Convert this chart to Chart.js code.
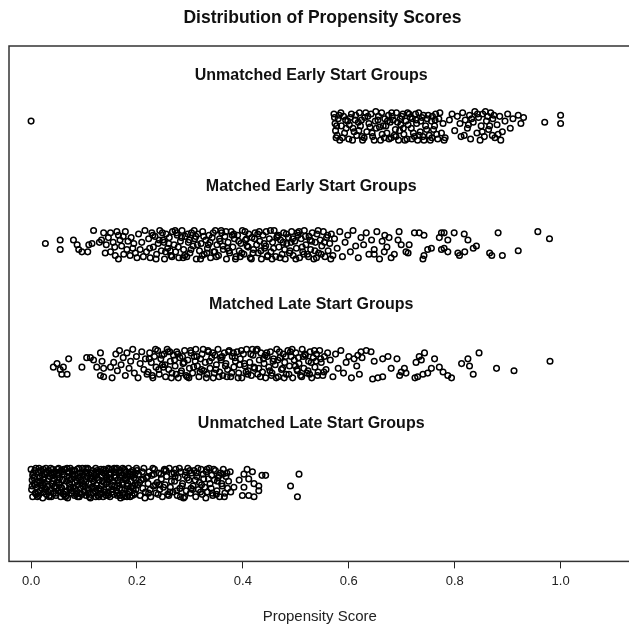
<!DOCTYPE html>
<html>
<head>
<meta charset="utf-8">
<script src="https://cdn.jsdelivr.net/npm/chart.js@4/dist/chart.umd.min.js"></script>
<style>
  html, body { margin: 0; padding: 0; background: #fff; overflow: hidden; }
  #wrap { width: 636px; height: 626px; }
</style>
</head>
<body>
<div id="wrap"><canvas id="chartCanvas" width="636" height="626"></canvas></div>
<script>
const chartTitle = 'Distribution of Propensity Scores';
const axisTitle = 'Propensity Score';
const groupNames = ['Unmatched Early Start Groups', 'Matched Early Start Groups', 'Matched Late Start Groups', 'Unmatched Late Start Groups'];
const groupLevels = [4, 3, 2, 1];
const tickValues = [0, 0.2, 0.4, 0.6, 0.8, 1.0];

// each point: [propensity score, vertical jitter]
const unmatchedEarly = [
  [0.000,0.04],
  [0.572,0.10],[0.574,0.02],[0.575,-0.04],[0.576,-0.10],[0.580,0.06],[0.583,-0.12],[0.586,0.00],[0.590,0.08],[0.592,-0.06],[0.598,0.04],
  [0.600,-0.11],[0.605,0.10],[0.608,-0.02],[0.612,0.05],[0.615,-0.08],[0.620,0.11],[0.622,0.00],[0.626,-0.12],[0.630,0.07],[0.634,-0.05],
  [0.638,0.02],[0.642,0.10],[0.645,-0.09],[0.650,0.04],[0.652,-0.02],[0.656,0.08],[0.660,-0.12],[0.662,0.11],[0.665,0.00],[0.668,0.06],
  [0.672,-0.06],[0.675,0.09],[0.678,0.03],[0.680,-0.10],[0.684,0.05],[0.688,-0.03],[0.690,0.11],[0.694,-0.12],[0.698,0.01],[0.700,0.08],
  [0.704,-0.07],[0.708,0.04],[0.710,-0.11],[0.714,0.10],[0.718,-0.02],[0.720,0.06],[0.724,-0.09],[0.728,0.02],[0.732,0.11],[0.735,-0.05],
  [0.738,0.07],[0.742,-0.12],[0.745,0.00],[0.750,0.09],[0.752,-0.08],[0.756,0.04],[0.760,-0.03],[0.764,0.10],[0.768,-0.11],[0.770,0.06],
  [0.775,-0.06],[0.778,0.02],[0.782,-0.10],[0.790,0.05],[0.795,0.10],[0.800,-0.04],[0.805,0.08],[0.810,0.02],[0.812,-0.09],[0.815,0.11],
  [0.820,0.05],[0.824,-0.02],[0.828,0.09],[0.830,-0.11],[0.835,0.03],[0.838,0.12],[0.842,-0.06],[0.845,0.07],[0.850,0.00],[0.853,0.10],
  [0.856,-0.09],[0.860,0.04],[0.864,-0.03],[0.868,0.11],[0.872,0.06],[0.876,-0.10],[0.880,0.01],[0.885,0.08],[0.890,-0.05],[0.895,0.04],
  [0.900,0.10],[0.905,-0.02],[0.910,0.06],[0.920,0.09],[0.925,0.02],[0.930,0.07],[0.970,0.03],[1.000,0.09],[1.000,0.02],
  [0.573,0.07],[0.578,-0.08],[0.585,0.11],[0.595,-0.02],[0.603,0.07],[0.610,-0.05],[0.618,0.03],[0.625,-0.09],[0.632,0.11],[0.640,-0.01],
  [0.648,-0.12],[0.655,0.05],[0.663,-0.07],[0.670,0.00],[0.676,-0.11],[0.682,0.08],[0.686,-0.08],[0.692,0.03],[0.696,-0.04],[0.702,0.10],
  [0.706,-0.12],[0.712,0.01],[0.716,0.07],[0.722,-0.06],[0.726,0.10],[0.730,-0.12],[0.736,0.04],[0.740,-0.09],[0.748,0.06],[0.754,-0.12],
  [0.758,0.08],[0.762,0.00],[0.766,-0.07],[0.772,0.11],[0.780,-0.12],[0.818,-0.08],[0.832,0.06],[0.848,-0.12],[0.858,0.12],[0.866,0.00],
  [0.874,0.09],[0.882,-0.07],[0.887,-0.12],
  [0.577,0.00],[0.582,0.09],[0.588,-0.10],[0.594,0.05],[0.601,0.01],[0.607,-0.12],[0.613,0.09],[0.619,-0.04],[0.624,0.05],[0.629,-0.10],
  [0.636,0.08],[0.644,-0.06],[0.651,0.12],[0.658,-0.01],[0.667,-0.10],[0.673,0.04],[0.681,0.11],[0.689,-0.09],[0.697,0.06],[0.703,-0.02],
  [0.711,0.11],[0.719,-0.11],[0.727,0.05],[0.733,-0.08],[0.741,0.09],[0.747,-0.03],[0.757,-0.10],[0.763,0.05],[0.826,0.01],[0.843,0.10],
  [0.852,-0.05],[0.862,0.08],[0.871,-0.08]
];

const matchedEarly = [
  [0.027,0.01],[0.055,0.04],[0.055,-0.04],[0.080,0.04],[0.087,0.00],[0.090,-0.04],[0.096,-0.06],[0.107,-0.06],[0.109,0.00],[0.115,0.01],
  [0.118,0.12],[0.129,0.02],
  [0.137,0.10],[0.150,0.10],[0.162,0.11],[0.165,0.08],[0.140,-0.07],[0.150,-0.06],[0.159,-0.09],[0.165,-0.12],[0.175,-0.08],[0.181,-0.04],
  [0.187,-0.09],[0.194,0.01],[0.197,-0.07],[0.200,-0.11],[0.133,0.04],[0.142,0.00],[0.146,0.06],[0.155,0.02],[0.158,-0.02],[0.168,0.04],
  [0.171,-0.01],[0.174,0.07],[0.178,0.11],[0.183,0.03],[0.189,0.06],[0.192,-0.03],[0.203,0.09],[0.206,-0.04],[0.209,0.02],[0.212,-0.10],
  [0.215,0.12],[0.218,-0.06],
  [0.222,0.05],[0.225,-0.11],[0.228,0.10],[0.231,-0.02],[0.234,0.07],[0.237,-0.08],[0.240,0.01],[0.243,0.12],[0.246,-0.05],[0.249,0.04],
  [0.252,-0.12],[0.255,0.09],[0.258,-0.03],[0.261,0.06],[0.264,-0.09],[0.267,0.11],[0.270,0.00],[0.273,-0.06],[0.276,0.08],[0.279,-0.11],
  [0.282,0.03],[0.285,0.12],[0.288,-0.04],[0.291,0.07],[0.294,-0.10],[0.297,0.02],[0.300,-0.07],[0.303,0.10],[0.306,-0.01],[0.309,0.05],
  [0.312,-0.12],[0.315,0.09],[0.318,-0.05],[0.321,0.01],[0.324,0.11],[0.327,-0.08],[0.330,0.04],[0.333,-0.03],[0.336,0.08],[0.339,-0.11],
  [0.342,0.06],[0.345,-0.06],[0.348,0.12],[0.351,0.00],[0.354,-0.09],[0.357,0.03],[0.360,0.10],[0.363,-0.04],[0.366,0.07],[0.369,-0.12],
  [0.372,0.02],[0.375,-0.07],[0.378,0.11],[0.381,-0.02],[0.384,0.05],[0.387,-0.10],[0.390,0.08],[0.393,-0.05],[0.396,0.01],[0.399,0.12],
  [0.402,-0.08],[0.405,0.04],[0.408,-0.01],[0.411,0.09],[0.414,-0.11],[0.417,0.06],[0.420,-0.04],[0.423,0.10],[0.426,0.00],[0.429,-0.07],
  [0.432,0.03],[0.435,-0.12],[0.438,0.08],[0.441,-0.03],[0.444,0.11],[0.447,-0.09],[0.450,0.05],[0.453,-0.06],[0.456,0.02],[0.459,0.12],
  [0.462,-0.10],[0.465,0.07],[0.468,-0.02],[0.471,0.04],[0.474,-0.08],[0.477,0.10],[0.480,-0.12],[0.483,0.01],[0.486,0.06],[0.489,-0.05],
  [0.492,0.11],[0.495,-0.09],[0.498,0.03],[0.501,-0.03],[0.504,0.08],[0.507,-0.11],[0.510,0.05],[0.513,-0.06],[0.516,0.12],[0.519,0.00],
  [0.522,-0.08],[0.525,0.07],[0.528,-0.04],[0.531,0.10],[0.534,-0.12],[0.537,0.02],[0.540,0.09],[0.543,-0.07],[0.546,0.04],[0.549,-0.01],
  [0.552,0.11],[0.555,-0.10],[0.558,0.06],[0.561,-0.05],[0.564,0.01],[0.567,0.09],[0.570,-0.09],
  [0.224,-0.03],[0.230,0.08],[0.236,-0.12],[0.242,0.04],[0.248,0.10],[0.254,-0.06],[0.260,0.01],[0.266,-0.10],[0.272,0.12],[0.278,-0.02],
  [0.284,0.06],[0.290,-0.09],[0.296,0.09],[0.302,-0.04],[0.308,0.12],[0.314,0.00],[0.320,-0.12],[0.326,0.07],[0.332,-0.07],[0.338,0.02],
  [0.344,0.10],[0.350,-0.10],[0.356,0.05],[0.362,-0.01],[0.368,0.11],[0.374,-0.05],[0.380,0.08],[0.386,-0.12],[0.392,0.03],[0.398,-0.07],
  [0.404,0.11],[0.410,-0.02],[0.416,-0.12],[0.422,0.05],[0.428,0.09],[0.434,-0.05],[0.440,0.01],[0.446,-0.10],[0.452,0.12],[0.458,-0.03],
  [0.464,0.06],[0.470,-0.11],[0.476,0.02],[0.482,0.09],[0.488,-0.07],[0.494,0.05],[0.500,-0.12],[0.506,0.11],[0.512,-0.02],[0.518,0.07],
  [0.524,-0.10],[0.530,0.03],[0.536,-0.05],[0.542,0.12],[0.548,-0.08],[0.554,0.02],[0.560,0.08],[0.566,-0.12],
  [0.251,0.02],[0.263,-0.05],[0.275,0.10],[0.287,-0.11],[0.299,0.04],[0.311,0.07],[0.323,-0.09],[0.335,0.00],[0.347,-0.06],[0.359,0.12],
  [0.371,-0.03],[0.383,0.09],[0.395,-0.10],[0.407,0.05],[0.419,-0.07],[0.431,0.11],[0.443,-0.01],[0.455,-0.12],[0.467,0.08],[0.479,-0.04],
  [0.491,0.02],[0.503,0.10],[0.515,-0.08],[0.527,0.04],[0.539,-0.11],
  [0.573,0.05],[0.578,-0.03],[0.583,0.11],[0.588,-0.10],[0.593,0.02],[0.598,0.08],[0.603,-0.06],[0.608,0.12],[0.613,-0.01],[0.618,-0.11],
  [0.623,0.06],[0.628,0.00],[0.633,0.10],[0.638,-0.08],[0.643,0.04],[0.648,-0.04],[0.653,0.11],[0.658,-0.12],[0.663,0.03],[0.668,0.08],
  [0.672,-0.02],[0.676,0.06],[0.648,-0.08],[0.667,-0.06],[0.680,-0.11],[0.686,-0.08],[0.693,0.04],[0.695,0.11],[0.699,0.00],
  [0.708,-0.06],[0.712,-0.07],[0.714,0.00],[0.724,0.10],[0.733,0.10],[0.742,0.08],[0.740,-0.12],[0.742,-0.09],[0.749,-0.04],[0.756,-0.03],
  [0.771,0.06],[0.775,0.10],[0.780,0.10],[0.787,0.04],[0.780,-0.03],[0.775,-0.04],[0.787,-0.06],[0.799,0.10],[0.818,0.09],[0.825,0.04],
  [0.835,-0.03],[0.841,-0.01],[0.819,-0.06],[0.806,-0.07],[0.809,-0.09],[0.866,-0.07],[0.870,-0.09],[0.882,0.10],[0.890,-0.09],[0.920,-0.05],
  [0.957,0.11],[0.979,0.05]
];

const matchedLate = [
  [0.042,-0.03],[0.049,0.00],[0.055,-0.05],[0.058,-0.09],[0.068,-0.09],[0.061,-0.03],[0.071,0.04],[0.096,-0.03],[0.105,0.05],[0.112,0.05],
  [0.118,0.03],[0.124,-0.03],[0.131,0.09],[0.134,0.02],[0.137,-0.04],[0.131,-0.10],[0.137,-0.11],[0.153,-0.12],[0.150,-0.03],[0.156,0.01],
  [0.160,0.08],[0.163,-0.06],[0.167,0.11],[0.170,-0.01],[0.174,0.05],[0.178,-0.10],[0.181,0.09],[0.185,-0.04],[0.188,0.02],[0.192,0.12],
  [0.195,-0.08],[0.199,0.06],[0.202,-0.12],[0.206,0.00],[0.209,0.10],[0.213,-0.05],[0.216,0.04],[0.219,-0.09],
  [0.221,-0.07],[0.224,0.09],[0.227,0.01],[0.230,-0.12],[0.233,0.06],[0.236,-0.03],[0.239,0.11],[0.242,-0.09],[0.245,0.04],[0.248,-0.01],
  [0.251,0.08],[0.254,-0.11],[0.257,0.12],[0.260,-0.05],[0.263,0.02],[0.266,-0.08],[0.269,0.07],[0.272,-0.02],[0.275,0.10],[0.278,-0.12],
  [0.281,0.05],[0.284,-0.06],[0.287,0.00],[0.290,0.11],[0.293,-0.10],[0.296,0.03],[0.299,-0.04],[0.302,0.09],[0.305,-0.08],[0.308,0.06],
  [0.311,0.12],[0.314,-0.02],[0.317,-0.11],[0.320,0.04],[0.323,0.08],[0.326,-0.06],[0.329,0.01],[0.332,-0.09],[0.335,0.10],[0.338,-0.04],
  [0.341,0.05],[0.344,-0.12],[0.347,0.07],[0.350,-0.01],[0.353,0.12],[0.356,-0.07],[0.359,0.03],[0.362,-0.10],[0.365,0.09],[0.368,0.00],
  [0.371,-0.05],[0.374,0.11],[0.377,-0.11],[0.380,0.06],[0.383,-0.03],[0.386,0.02],[0.389,0.10],[0.392,-0.08],[0.395,0.04],[0.398,-0.12],
  [0.401,0.08],[0.404,-0.02],[0.407,0.12],[0.410,-0.06],[0.413,0.01],[0.416,-0.10],[0.419,0.07],[0.422,-0.04],[0.425,0.11],[0.428,-0.09],
  [0.431,0.03],[0.434,0.09],[0.437,-0.07],[0.440,0.00],[0.443,-0.12],[0.446,0.06],[0.449,-0.03],[0.452,0.10],[0.455,-0.08],[0.458,0.04],
  [0.461,-0.01],[0.464,0.12],[0.467,-0.11],[0.470,0.05],[0.473,-0.05],[0.476,0.08],[0.479,0.01],[0.482,-0.09],[0.485,0.11],[0.488,-0.02],
  [0.491,0.06],[0.494,-0.12],[0.497,0.03],[0.500,0.09],[0.503,-0.06],[0.506,0.00],[0.509,-0.10],[0.512,0.12],[0.515,-0.04],[0.518,0.07],
  [0.521,-0.08],[0.524,0.02],[0.527,0.10],[0.530,-0.12],[0.533,0.05],[0.536,-0.03],[0.539,0.08],[0.542,-0.07],[0.545,0.11],[0.548,0.01],
  [0.551,-0.10],[0.554,0.06],[0.557,-0.05],[0.560,0.09],
  [0.223,0.04],[0.229,-0.10],[0.235,0.12],[0.241,-0.05],[0.247,0.07],[0.253,-0.01],[0.259,0.10],[0.265,-0.12],[0.271,0.03],[0.277,0.08],
  [0.283,-0.08],[0.289,0.01],[0.295,-0.11],[0.301,0.11],[0.307,-0.03],[0.313,0.06],[0.319,-0.07],[0.325,0.12],[0.331,-0.12],[0.337,0.02],
  [0.343,0.09],[0.349,-0.05],[0.355,-0.11],[0.361,0.06],[0.367,-0.02],[0.373,0.10],[0.379,-0.08],[0.385,0.05],[0.391,-0.12],[0.397,0.11],
  [0.403,0.00],[0.409,-0.09],[0.415,0.08],[0.421,-0.03],[0.427,0.12],[0.433,-0.11],[0.439,0.04],[0.445,0.09],[0.451,-0.06],[0.457,0.02],
  [0.463,-0.12],[0.469,0.10],[0.475,-0.04],[0.481,0.06],[0.487,-0.09],[0.493,0.12],[0.499,-0.02],[0.505,0.05],[0.511,-0.11],[0.517,0.08],
  [0.523,-0.06],[0.529,0.01],[0.535,0.11],[0.541,-0.10],[0.547,0.04],[0.553,-0.07],
  [0.250,-0.03],[0.262,0.10],[0.274,-0.09],[0.286,0.06],[0.298,-0.12],[0.310,0.02],[0.322,-0.05],[0.334,0.11],[0.346,-0.08],[0.358,0.05],
  [0.370,-0.11],[0.382,0.09],[0.394,-0.01],[0.406,-0.07],[0.418,0.12],[0.430,-0.04],[0.442,0.07],[0.454,-0.10],[0.466,0.03],[0.478,-0.12],
  [0.490,0.10],[0.502,-0.05],[0.514,0.06],[0.526,-0.09],[0.538,0.02],
  [0.565,0.03],[0.570,-0.11],[0.575,0.08],[0.580,-0.04],[0.585,0.11],[0.590,-0.08],[0.595,0.01],[0.600,0.06],[0.605,-0.12],[0.610,0.04],
  [0.615,-0.02],[0.620,-0.09],[0.625,0.05],[0.617,0.07],[0.623,0.10],[0.633,0.11],[0.642,0.10],[0.648,0.02],[0.645,-0.13],[0.655,-0.12],
  [0.664,-0.11],[0.664,0.04],[0.674,0.06],[0.680,-0.04],[0.691,0.04],[0.696,-0.10],[0.699,-0.07],[0.705,-0.04],[0.708,-0.08],
  [0.725,-0.12],[0.727,0.01],[0.730,-0.11],[0.733,0.06],[0.737,0.03],[0.740,-0.09],[0.743,0.09],[0.749,-0.08],[0.756,-0.04],[0.762,0.04],
  [0.771,-0.03],[0.778,-0.07],[0.787,-0.10],[0.794,-0.12],[0.813,0.00],[0.825,0.04],[0.828,-0.02],[0.835,-0.09],[0.846,0.09],[0.879,-0.04],
  [0.912,-0.06],[0.980,0.02]
];

const unmatchedLate = [
  [0.000,0.11],[0.001,-0.06],[0.002,0.02],[0.003,-0.12],[0.004,0.08],[0.006,-0.01],[0.007,0.05],[0.008,-0.09],[0.009,0.12],[0.011,-0.04],
  [0.012,0.00],[0.013,0.09],[0.014,-0.11],[0.016,0.04],[0.017,-0.07],[0.018,0.10],[0.019,-0.02],[0.021,0.06],[0.022,-0.13],[0.023,0.03],
  [0.024,-0.08],[0.026,0.07],[0.027,-0.05],[0.028,0.12],[0.029,-0.10],[0.031,0.01],[0.032,-0.03],[0.033,0.10],[0.034,-0.12],[0.036,0.05],
  [0.037,-0.06],[0.038,0.08],[0.039,-0.01],[0.041,0.11],[0.042,-0.09],[0.043,0.03],[0.044,-0.04],[0.046,0.09],[0.047,-0.11],[0.048,0.00],
  [0.049,0.06],[0.051,-0.07],[0.052,0.12],[0.053,-0.02],[0.054,0.04],[0.056,-0.12],[0.057,0.10],[0.058,-0.05],[0.059,0.02],[0.061,-0.10],
  [0.062,0.07],[0.063,-0.03],[0.064,0.11],[0.066,-0.08],[0.067,0.01],[0.068,0.05],[0.069,-0.13],[0.071,0.09],[0.072,-0.01],[0.073,-0.06],
  [0.074,0.12],[0.076,0.03],[0.077,-0.09],[0.078,0.07],[0.079,-0.04],[0.081,0.10],[0.082,-0.11],[0.083,0.00],[0.084,0.06],[0.086,-0.07],
  [0.087,0.11],[0.088,-0.02],[0.089,0.04],[0.091,-0.12],[0.092,0.08],[0.093,-0.05],[0.094,0.02],[0.096,-0.10],[0.097,0.12],[0.098,-0.03],
  [0.099,0.06],[0.101,-0.08],[0.102,0.09],[0.103,0.00],[0.104,-0.11],[0.106,0.05],[0.107,-0.06],[0.108,0.11],[0.109,-0.01],[0.111,0.03],
  [0.112,-0.13],[0.113,0.08],[0.114,-0.04],[0.116,0.10],[0.117,-0.09],[0.118,0.01],[0.119,0.07],[0.121,-0.07],[0.122,0.12],[0.123,-0.02],
  [0.124,0.04],[0.126,-0.11],[0.127,0.09],[0.128,-0.05],[0.129,0.02],[0.131,-0.10],[0.132,0.11],[0.133,-0.03],[0.134,0.06],[0.136,-0.12],
  [0.137,0.08],[0.138,0.00],[0.139,-0.08],[0.141,0.10],[0.142,-0.01],[0.143,0.05],[0.144,-0.09],[0.146,0.12],[0.147,-0.04],[0.148,0.03],
  [0.149,-0.12],[0.151,0.07],[0.152,-0.06],[0.153,0.11],[0.154,0.01],[0.156,-0.10],[0.157,0.09],[0.158,-0.03],[0.159,0.04],[0.161,-0.07],
  [0.162,0.12],[0.163,-0.11],[0.164,0.02],[0.166,0.08],[0.167,-0.05],[0.168,0.10],[0.169,-0.13],[0.171,0.06],[0.172,-0.02],[0.173,0.00],
  [0.174,-0.09],[0.176,0.11],[0.177,0.03],[0.178,-0.06],[0.179,0.09],[0.181,-0.12],[0.182,0.05],[0.183,-0.01],[0.184,0.12],[0.186,-0.08],
  [0.187,0.07],[0.188,-0.04],[0.189,0.01],[0.191,-0.11],[0.192,0.10],[0.193,-0.03],[0.194,0.04],[0.196,-0.10],[0.197,0.08],[0.198,-0.06],
  [0.199,0.12],[0.201,-0.02],
  [0.005,0.04],[0.010,-0.10],[0.015,0.12],[0.020,-0.05],[0.025,0.00],[0.030,0.08],[0.035,-0.11],[0.040,0.06],[0.045,-0.03],[0.050,0.11],
  [0.055,-0.08],[0.060,0.02],[0.065,-0.12],[0.070,0.09],[0.075,-0.04],[0.080,0.05],[0.085,-0.10],[0.090,0.12],[0.095,0.00],[0.100,-0.07],
  [0.105,0.08],[0.110,-0.12],[0.115,0.03],[0.120,-0.05],[0.125,0.10],[0.130,-0.09],[0.135,0.01],[0.140,0.07],[0.145,-0.11],[0.150,0.04],
  [0.155,-0.06],[0.160,0.11],[0.165,-0.01],[0.170,0.08],[0.175,-0.12],[0.180,0.02],[0.185,-0.07],[0.190,0.06],[0.195,-0.09],[0.200,0.10],
  [0.003,0.06],[0.008,-0.02],[0.013,-0.08],[0.018,0.01],[0.023,0.11],[0.028,-0.06],[0.033,0.03],[0.038,-0.12],[0.043,0.08],[0.048,-0.05],
  [0.053,0.00],[0.058,0.09],[0.063,-0.10],[0.068,0.12],[0.073,0.02],[0.078,-0.07],[0.083,0.10],[0.088,-0.12],[0.093,0.05],[0.098,-0.01],
  [0.103,0.12],[0.108,-0.09],[0.113,0.04],[0.118,-0.04],[0.123,0.07],[0.128,-0.12],[0.133,0.09],[0.138,-0.06],[0.143,0.02],[0.148,0.11],
  [0.153,-0.08],[0.158,0.06],[0.163,-0.03],[0.168,-0.11],[0.173,0.12],[0.178,0.04],[0.183,-0.10],[0.188,0.09],[0.193,-0.05],[0.198,0.02],
  [0.002,-0.03],[0.007,0.10],[0.012,-0.12],[0.017,0.05],[0.022,-0.02],[0.027,0.09],[0.032,-0.08],[0.037,0.12],[0.042,0.01],[0.047,-0.09],
  [0.052,0.07],[0.057,-0.04],[0.062,0.11],[0.067,-0.11],[0.072,0.04],[0.077,0.10],[0.082,-0.05],[0.087,0.01],[0.092,-0.09],[0.097,0.07],
  [0.102,-0.03],[0.107,0.12],[0.112,-0.10],[0.117,0.05],[0.122,-0.12],[0.127,0.02],[0.132,-0.06],[0.137,0.11],[0.142,-0.11],[0.147,0.07],
  [0.152,-0.02],[0.157,0.12],[0.162,-0.09],[0.167,0.05],[0.172,-0.06],[0.177,0.10],[0.182,-0.03],[0.187,-0.12],[0.192,0.07],[0.197,-0.01],
  [0.203,0.07],[0.206,-0.11],[0.208,0.02],[0.211,-0.05],[0.213,0.12],[0.216,-0.08],[0.218,0.04],[0.221,-0.01],[0.223,0.09],[0.226,-0.12],
  [0.228,0.06],[0.231,-0.03],[0.233,0.11],[0.236,-0.09],[0.238,0.00],[0.241,0.08],[0.243,-0.06],[0.246,0.03],[0.248,-0.12],[0.251,0.10],
  [0.253,-0.02],[0.256,0.05],[0.258,-0.10],[0.261,0.12],[0.263,-0.04],[0.266,0.07],[0.268,-0.08],[0.271,0.01],[0.273,0.11],[0.276,-0.11],
  [0.278,0.04],[0.281,-0.05],[0.283,0.09],[0.286,-0.01],[0.288,-0.13],[0.291,0.06],[0.293,-0.07],[0.296,0.12],[0.298,0.02],[0.301,-0.09],
  [0.303,0.08],[0.306,-0.03],[0.308,0.10],[0.311,-0.12],[0.313,0.05],[0.316,-0.06],[0.318,0.00],[0.321,0.11],[0.323,-0.10],[0.326,0.03],
  [0.328,-0.04],[0.331,0.09],[0.333,-0.08],[0.336,0.12],[0.338,-0.01],[0.341,0.06],[0.343,-0.11],[0.346,0.02],[0.348,0.10],[0.351,-0.07],
  [0.353,0.04],[0.356,-0.12],[0.358,0.08],[0.361,-0.03],[0.363,0.11],[0.366,-0.09],[0.368,0.05],[0.371,-0.05],[0.373,0.01],[0.376,0.09],
  [0.205,0.00],[0.210,0.09],[0.215,-0.13],[0.220,0.05],[0.225,-0.06],[0.230,0.12],[0.235,-0.02],[0.240,-0.10],[0.245,0.07],[0.250,-0.04],
  [0.255,0.10],[0.260,-0.11],[0.265,0.01],[0.270,0.08],[0.275,-0.07],[0.280,0.12],[0.285,-0.03],[0.290,-0.12],[0.295,0.04],[0.300,0.10],
  [0.305,-0.06],[0.310,0.02],[0.315,0.12],[0.320,-0.08],[0.325,0.07],[0.330,-0.13],[0.335,0.03],[0.340,-0.05],[0.345,0.11],[0.350,-0.10],
  [0.355,0.06],[0.360,-0.01],[0.365,-0.12],[0.370,0.08],
  [0.212,0.03],[0.222,-0.09],[0.232,0.07],[0.242,-0.02],[0.252,0.11],[0.262,-0.08],[0.272,0.05],[0.282,-0.12],[0.292,0.09],[0.302,-0.05],
  [0.312,0.08],[0.322,-0.02],[0.332,0.11],[0.342,-0.09],[0.352,0.01],[0.362,0.07],
  [0.393,0.02],[0.402,0.07],[0.408,0.11],[0.418,0.09],[0.411,0.03],[0.421,-0.01],[0.430,-0.03],[0.436,0.06],[0.443,0.06],[0.402,-0.04],
  [0.411,-0.11],[0.421,-0.12],[0.430,-0.07],[0.399,-0.11],[0.383,-0.04],[0.377,-0.08],[0.490,-0.03],[0.506,0.07],[0.503,-0.12]
];

const groups = [unmatchedEarly, matchedEarly, matchedLate, unmatchedLate];
const FONT = '"Liberation Sans", Arial, sans-serif';

const groupLabels = {
  id: 'groupLabels',
  beforeDatasetsDraw(chart) {
    const { ctx, chartArea: a } = chart;
    ctx.save();
    ctx.strokeStyle = '#333';
    ctx.lineWidth = 1.5;
    ctx.strokeRect(a.left, a.top, a.right - a.left, a.bottom - a.top);
    const xs = chart.scales.x, ys = chart.scales.y;
    ctx.fillStyle = '#111';
    ctx.font = 'bold 16px ' + FONT;
    ctx.textAlign = 'center';
    ctx.textBaseline = 'middle';
    const lift = [0.425, 0.49, 0.5, 0.495];
    groupNames.forEach((name, i) => {
      ctx.fillText(name, xs.getPixelForValue(0.529), ys.getPixelForValue(groupLevels[i] + lift[i]));
    });
    ctx.restore();
  }
};

new Chart(document.getElementById('chartCanvas'), {
  type: 'scatter',
  data: {
    datasets: groups.map((pts, i) => ({
      label: groupNames[i],
      data: pts.map(([x, dy]) => ({ x: x, y: groupLevels[i] + dy })),
      pointStyle: 'circle',
      pointRadius: 2.8,
      pointBorderWidth: 1.5,
      borderColor: '#000',
      backgroundColor: 'rgba(0,0,0,0)'
    }))
  },
  options: {
    responsive: false,
    animation: false,
    devicePixelRatio: 1,
    layout: { padding: { left: 9, right: 0, top: 0, bottom: 0 } },
    plugins: {
      legend: { display: false },
      tooltip: { enabled: false },
      title: {
        display: true,
        text: chartTitle,
        color: '#111',
        font: { family: FONT, size: 17.5, weight: 'bold' },
        padding: { top: 8, bottom: 17 }
      }
    },
    scales: {
      x: {
        type: 'linear',
        min: -0.0417,
        max: 1.132,
        afterBuildTicks: (scale) => { scale.ticks = tickValues.map(v => ({ value: v })); },
        border: { display: false },
        grid: { display: true, drawOnChartArea: false, drawTicks: true, tickLength: 7, color: '#222', lineWidth: 1 },
        ticks: {
          color: '#222',
          padding: 5,
          maxRotation: 0,
          font: { family: FONT, size: 13 },
          callback: (v) => Number(v).toFixed(1)
        },
        title: {
          display: true,
          text: axisTitle,
          color: '#222',
          font: { family: FONT, size: 15 },
          padding: { top: 14, bottom: 0 }
        }
      },
      y: {
        type: 'linear',
        display: false,
        min: 0.336,
        max: 4.672
      }
    }
  },
  plugins: [groupLabels]
});
</script>
</body>
</html>
